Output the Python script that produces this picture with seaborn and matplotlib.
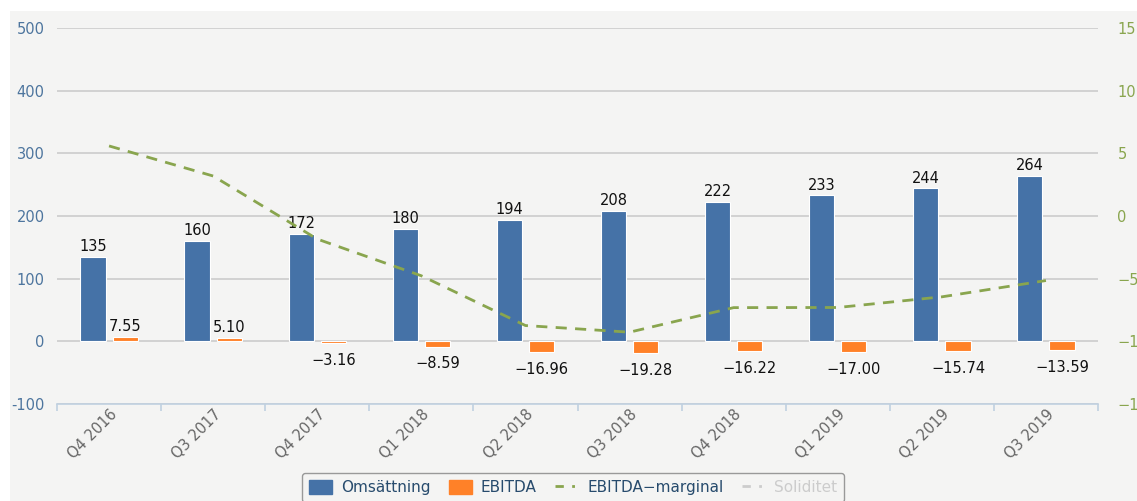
import matplotlib.pyplot as plt
import numpy as np
import pandas as pd
import seaborn as sns
from matplotlib.lines import Line2D
from matplotlib.patches import Patch, Rectangle
from matplotlib.ticker import FixedLocator

# %% data

quarters = ["Q4 2016", "Q3 2017", "Q4 2017", "Q1 2018", "Q2 2018",
            "Q3 2018", "Q4 2018", "Q1 2019", "Q2 2019", "Q3 2019"]
omsattning = [135, 160, 172, 180, 194, 208, 222, 233, 244, 264]
ebitda = [7.55, 5.10, -3.16, -8.59, -16.96, -19.28, -16.22, -17.00, -15.74, -13.59]
ebitda_marginal = [5.59, 3.19, -1.84, -4.77, -8.74, -9.27, -7.31, -7.30, -6.45, -5.15]

blue = "#4572a7"
orange = "#ff8128"
green = "#89a54e"
bg = "#f4f4f3"

df = pd.DataFrame({
    "quarter": quarters * 2,
    "serie": ["Omsättning"] * len(quarters) + ["EBITDA"] * len(quarters),
    "value": omsattning + ebitda,
})

# %% plot

plt.rcParams["font.family"] = ["DejaVu Sans"]

fig = plt.figure(figsize=(11.37, 5.01), dpi=100)
fig.patch.set_facecolor("white")
fig.add_artist(Rectangle((10 / 1137, 0), 1, 490 / 501, transform=fig.transFigure,
                         facecolor=bg, edgecolor="none", zorder=-10))

ax = fig.add_axes([57 / 1137, 97 / 501, 1041 / 1137, 376 / 501])
ax.set_facecolor("none")

sns.barplot(data=df, x="quarter", y="value", hue="serie",
            palette=[blue, orange], saturation=1, width=0.62, gap=0.22,
            edgecolor="white", linewidth=0.8, legend=False, ax=ax)

ax.set_ylim(-100, 500)
ax.set_xlim(-0.5, len(quarters) - 0.5)
ax.set_yticks(range(-100, 501, 100))
ax.yaxis.grid(True, color="#cccccc", linewidth=1.2)
ax.set_axisbelow(True)
ax.set_xlabel("")
ax.set_ylabel("")
for s in ["left", "top", "right"]:
    ax.spines[s].set_visible(False)
ax.spines["bottom"].set_color("#c0d0e0")
ax.spines["bottom"].set_linewidth(1.2)
ax.tick_params(axis="y", length=0, pad=9, labelsize=10.5, labelcolor="#4d759e")
ax.tick_params(axis="x", which="major", length=0, pad=2, labelsize=10.5, labelcolor="#666666")
ax.xaxis.set_minor_locator(FixedLocator(np.arange(-0.5, len(quarters), 1)))
ax.tick_params(axis="x", which="minor", length=5, width=1.2, color="#c0d0e0")
ax.set_xticks(range(len(quarters)))
ax.set_xticklabels(quarters, rotation=45, ha="right", rotation_mode="anchor")
ax.set_yticklabels([str(v) for v in range(-100, 501, 100)])

# data labels
ax.bar_label(ax.containers[0], labels=[str(v) for v in omsattning],
             padding=2, fontsize=10.5, color="#111111")
ax.bar_label(ax.containers[1],
             labels=[f"{v:.2f}" if v > 0 else "" for v in ebitda],
             padding=2, fontsize=10.5, color="#111111")
ax.bar_label(ax.containers[1],
             labels=[f"{v:.2f}".replace("-", "\u2212") if v < 0 else "" for v in ebitda],
             padding=7, fontsize=10.5, color="#111111")

# secondary axis: EBITDA-marginal
ax2 = ax.twinx()
ax2.set_facecolor("none")
sns.lineplot(x=np.arange(len(quarters)), y=ebitda_marginal, color=green,
             linewidth=2, linestyle=(0, (4, 3)), ax=ax2)
ax2.set_ylim(-15, 15)
ax2.set_yticks(range(-15, 16, 5))
ax2.set_yticklabels([str(v).replace("-", "\u2212") for v in range(-15, 16, 5)])
ax2.tick_params(axis="y", length=0, pad=14, labelsize=10.5, labelcolor=green)
for s in ax2.spines.values():
    s.set_visible(False)
ax2.set_xlim(-0.5, len(quarters) - 0.5)

# legend
handles = [
    Patch(facecolor=blue, edgecolor=blue, label="Omsättning"),
    Patch(facecolor=orange, edgecolor=orange, label="EBITDA"),
    Line2D([], [], color=green, linewidth=2, linestyle=(0, (3, 3, 1, 3)), label="EBITDA\u2212marginal"),
    Line2D([], [], color="#cccccc", linewidth=2, linestyle=(0, (3, 3, 1, 3)), label="Soliditet"),
]
leg = fig.legend(handles=handles, loc="upper center", ncol=4,
                 bbox_to_anchor=(573 / 1137, 1 - 473 / 501), borderaxespad=0,
                 fontsize=11, frameon=True, fancybox=True,
                 facecolor=bg, edgecolor="#999999", framealpha=1,
                 handlelength=1.5, handleheight=1.0, handletextpad=0.6,
                 columnspacing=1.2, borderpad=0.45)
leg.get_frame().set_linewidth(1.0)
for t, c in zip(leg.get_texts(), ["#274b6d", "#274b6d", "#274b6d", "#cccccc"]):
    t.set_color(c)

fig.savefig("out.png", dpi=100)
